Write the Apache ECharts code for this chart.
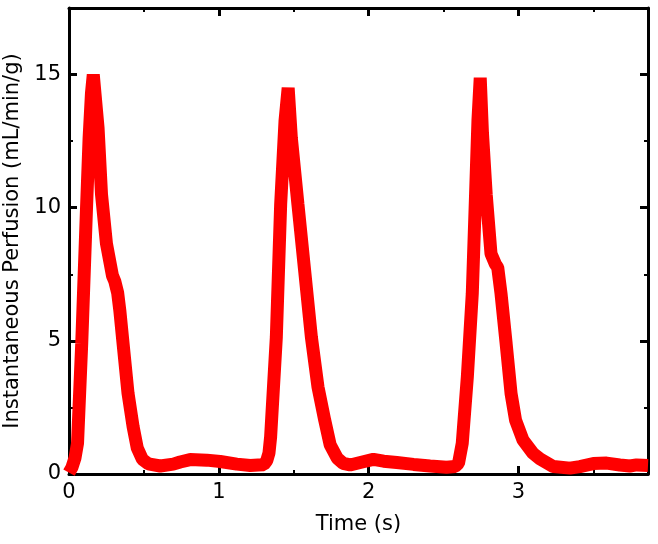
<!DOCTYPE html>
<html>
<head>
<meta charset="utf-8">
<script src="https://cdn.jsdelivr.net/npm/echarts@6/dist/echarts.min.js"></script>
<style>
html,body{margin:0;padding:0;background:#ffffff;}
#chart{width:658px;height:544px;}
</style>
</head>
<body>
<div id="chart"></div>
<script>
// ---- data ----
const timeS = [
  0.000, 0.020, 0.040, 0.057, 0.085, 0.117, 0.134, 0.150, 0.162, 0.194,
  0.217, 0.250, 0.290, 0.305, 0.325, 0.340, 0.361, 0.394, 0.428, 0.456,
  0.490, 0.530, 0.609, 0.696, 0.742, 0.809, 0.920, 1.009, 1.120, 1.210,
  1.263, 1.300, 1.320, 1.335, 1.346, 1.384, 1.413, 1.442, 1.463, 1.484,
  1.528, 1.573, 1.618, 1.662, 1.707, 1.743, 1.790, 1.830, 1.877, 1.965,
  2.032, 2.100, 2.188, 2.300, 2.410, 2.520, 2.577, 2.600, 2.625, 2.659,
  2.692, 2.714, 2.730, 2.745, 2.760, 2.785, 2.817, 2.845, 2.862, 2.884,
  2.918, 2.951, 2.981, 3.031, 3.097, 3.144, 3.233, 3.344, 3.410, 3.500,
  3.589, 3.677, 3.744, 3.789, 3.865
];
const perfusion = [
  0.05, 0.25, 0.60, 1.16, 4.91, 10.0, 12.6, 14.3, 15.0, 13.0,
  10.5, 8.65, 7.45, 7.25, 6.80, 6.10, 4.90, 3.03, 1.77, 0.97,
  0.55, 0.38, 0.30, 0.37, 0.45, 0.54, 0.52, 0.47, 0.37, 0.32,
  0.34, 0.35, 0.50, 0.79, 1.40, 5.14, 10.14, 13.26, 14.5, 12.63,
  10.14, 7.64, 5.14, 3.27, 2.02, 1.10, 0.60, 0.40, 0.34, 0.46,
  0.55, 0.48, 0.43, 0.36, 0.30, 0.25, 0.28, 0.40, 1.15, 3.64,
  6.77, 10.51, 13.3, 14.88, 12.8, 10.5, 8.27, 7.90, 7.75, 6.77,
  4.90, 3.02, 2.02, 1.27, 0.78, 0.57, 0.28, 0.22, 0.28, 0.39,
  0.41, 0.34, 0.30, 0.34, 0.32
];
const xTickLabels = ['0', '1', '2', '3'];
const yTickLabels = ['0', '5', '10', '15'];
const xTitle = 'Time (s)';
const yTitle = 'Instantaneous Perfusion (mL/min/g)';
const X_MAX = 3.865;
const Y_MAX = 17.5;

// ---- chart ----
const FONT = 'DejaVu Sans';
const seriesData = timeS.map((t, i) => [t, perfusion[i]]);

function xAx(pos, interval, tickLen, tickW, showLine, labels, name) {
  const a = {
    type: 'value', position: pos, min: 0, max: X_MAX, interval: interval,
    splitLine: { show: false },
    axisLine: { show: showLine, onZero: false, lineStyle: { color: '#000', width: 3 } },
    axisTick: { show: true, inside: true, length: tickLen, lineStyle: { color: '#000', width: tickW } },
    axisLabel: { show: false }
  };
  if (labels) {
    a.axisLabel = {
      show: true, margin: 8, fontSize: 21, color: '#000', fontFamily: FONT,
      showMaxLabel: false,
      formatter: v => { const i = Math.round(v); return Math.abs(v - i) < 1e-6 && xTickLabels[i] !== undefined ? xTickLabels[i] : ''; }
    };
  }
  if (name) {
    a.name = name; a.nameLocation = 'middle'; a.nameGap = 40;
    a.nameTextStyle = { fontSize: 21, color: '#000', fontFamily: FONT };
  }
  return a;
}
function yAx(pos, interval, tickLen, tickW, showLine, labels, name) {
  const a = {
    type: 'value', position: pos, min: 0, max: Y_MAX, interval: interval,
    splitLine: { show: false },
    axisLine: { show: showLine, onZero: false, lineStyle: { color: '#000', width: 3 } },
    axisTick: { show: true, inside: true, length: tickLen, lineStyle: { color: '#000', width: tickW } },
    axisLabel: { show: false }
  };
  if (labels) {
    a.axisLabel = {
      show: true, margin: 8, fontSize: 21, color: '#000', fontFamily: FONT,
      showMaxLabel: false,
      formatter: v => { const i = Math.round(v / 5); return Math.abs(v - i * 5) < 1e-6 && yTickLabels[i] !== undefined ? yTickLabels[i] : ''; }
    };
  }
  if (name) {
    a.name = name; a.nameLocation = 'middle'; a.nameGap = 41;
    a.nameTextStyle = { fontSize: 21, color: '#000', fontFamily: FONT };
  }
  return a;
}

const chart = echarts.init(document.getElementById('chart'), null, { renderer: 'canvas' });
chart.setOption({
  animation: false,
  backgroundColor: '#ffffff',
  grid: { left: 69, right: 10, top: 8, bottom: 70, containLabel: false, outerBoundsMode: 'none' },
  xAxis: [
    xAx('bottom', 1, 8, 3, true, true, xTitle),
    xAx('bottom', 0.5, 4, 2, false, false, null),
    xAx('top', 1, 8, 3, true, false, null),
    xAx('top', 0.5, 4, 2, false, false, null)
  ],
  yAxis: [
    yAx('left', 5, 8, 3, true, true, yTitle),
    yAx('left', 2.5, 4, 2, false, false, null),
    yAx('right', 5, 8, 3, true, false, null),
    yAx('right', 2.5, 4, 2, false, false, null)
  ],
  series: [{
    type: 'line',
    xAxisIndex: 0, yAxisIndex: 0,
    data: seriesData,
    showSymbol: false,
    symbol: 'none',
    clip: true,
    lineStyle: { color: '#ff0000', width: 13, join: 'bevel' },
    z: 1
  }]
});
</script>
</body>
</html>
